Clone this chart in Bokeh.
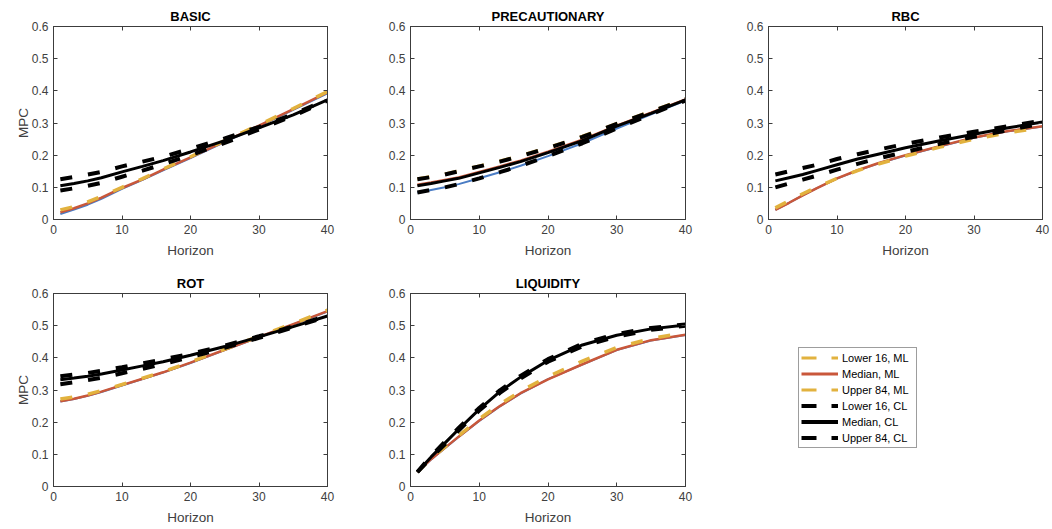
from bokeh.plotting import figure
from bokeh.layouts import column, row
from bokeh.models import LinearAxis, Legend, LegendItem, Range1d, FixedTicker, NumeralTickFormatter
from bokeh.embed import file_html
from bokeh.resources import INLINE

# ---------------- data ----------------
horizon = [1, 3, 5, 7, 10, 13, 16, 20, 25, 30, 35, 40]
x_ticks = [0, 10, 20, 30, 40]
y_ticks = [0, 0.1, 0.2, 0.3, 0.4, 0.5, 0.6]
legend_labels = ["Lower 16, ML", "Median, ML", "Upper 84, ML", "Lower 16, CL", "Median, CL", "Upper 84, CL"]
titles = ["BASIC", "PRECAUTIONARY", "RBC", "ROT", "LIQUIDITY"]

basic_ml_lower = [0.017, 0.031, 0.046, 0.064, 0.095, 0.123, 0.153, 0.191, 0.241, 0.290, 0.341, 0.392]
basic_ml_median = [0.022, 0.035, 0.050, 0.068, 0.098, 0.125, 0.155, 0.193, 0.243, 0.292, 0.343, 0.395]
basic_ml_upper = [0.030, 0.040, 0.055, 0.072, 0.100, 0.127, 0.157, 0.195, 0.245, 0.294, 0.345, 0.398]
basic_cl_lower = [0.090, 0.097, 0.105, 0.114, 0.133, 0.152, 0.172, 0.200, 0.238, 0.280, 0.322, 0.370]
basic_cl_median = [0.105, 0.112, 0.120, 0.130, 0.148, 0.165, 0.183, 0.210, 0.245, 0.285, 0.325, 0.372]
basic_cl_upper = [0.125, 0.132, 0.140, 0.148, 0.165, 0.180, 0.195, 0.220, 0.252, 0.288, 0.327, 0.374]

prec_ml_lower = [0.084, 0.092, 0.100, 0.110, 0.128, 0.147, 0.167, 0.197, 0.237, 0.283, 0.327, 0.370]
prec_ml_median = [0.108, 0.115, 0.123, 0.131, 0.148, 0.165, 0.183, 0.211, 0.248, 0.292, 0.332, 0.373]
prec_ml_upper = [0.126, 0.133, 0.141, 0.151, 0.166, 0.181, 0.198, 0.223, 0.258, 0.298, 0.336, 0.375]
prec_cl_lower = [0.084, 0.092, 0.100, 0.110, 0.128, 0.147, 0.167, 0.197, 0.237, 0.283, 0.327, 0.370]
prec_cl_median = [0.105, 0.112, 0.120, 0.128, 0.145, 0.162, 0.180, 0.208, 0.245, 0.290, 0.330, 0.372]
prec_cl_upper = [0.125, 0.132, 0.140, 0.150, 0.165, 0.180, 0.197, 0.222, 0.257, 0.297, 0.335, 0.374]

rbc_ml_lower = [0.030, 0.052, 0.075, 0.097, 0.127, 0.152, 0.174, 0.199, 0.227, 0.254, 0.274, 0.289]
rbc_ml_median = [0.030, 0.052, 0.075, 0.097, 0.128, 0.153, 0.175, 0.200, 0.228, 0.255, 0.275, 0.290]
rbc_ml_upper = [0.036, 0.058, 0.080, 0.100, 0.128, 0.152, 0.172, 0.197, 0.225, 0.250, 0.270, 0.285]
rbc_cl_lower = [0.100, 0.112, 0.124, 0.136, 0.155, 0.173, 0.190, 0.210, 0.235, 0.257, 0.278, 0.298]
rbc_cl_median = [0.120, 0.130, 0.140, 0.152, 0.170, 0.188, 0.203, 0.223, 0.245, 0.265, 0.285, 0.303]
rbc_cl_upper = [0.140, 0.150, 0.160, 0.170, 0.188, 0.203, 0.217, 0.235, 0.255, 0.273, 0.290, 0.308]

rot_ml_lower = [0.264, 0.272, 0.282, 0.294, 0.314, 0.334, 0.354, 0.384, 0.424, 0.464, 0.504, 0.544]
rot_ml_median = [0.265, 0.273, 0.283, 0.295, 0.315, 0.335, 0.355, 0.385, 0.425, 0.465, 0.505, 0.545]
rot_ml_upper = [0.272, 0.278, 0.287, 0.298, 0.317, 0.337, 0.357, 0.387, 0.427, 0.467, 0.507, 0.548]
rot_cl_lower = [0.318, 0.324, 0.331, 0.338, 0.352, 0.366, 0.381, 0.402, 0.431, 0.462, 0.495, 0.529]
rot_cl_median = [0.332, 0.337, 0.343, 0.350, 0.362, 0.375, 0.388, 0.408, 0.435, 0.465, 0.497, 0.530]
rot_cl_upper = [0.343, 0.348, 0.353, 0.360, 0.371, 0.383, 0.395, 0.413, 0.438, 0.467, 0.498, 0.531]

liq_ml_lower = [0.045, 0.084, 0.119, 0.154, 0.204, 0.249, 0.289, 0.334, 0.379, 0.424, 0.454, 0.471]
liq_ml_median = [0.045, 0.085, 0.120, 0.155, 0.205, 0.250, 0.290, 0.333, 0.380, 0.425, 0.455, 0.472]
liq_ml_upper = [0.045, 0.087, 0.123, 0.158, 0.210, 0.256, 0.296, 0.342, 0.390, 0.432, 0.460, 0.478]
liq_cl_lower = [0.045, 0.089, 0.131, 0.174, 0.236, 0.291, 0.336, 0.388, 0.436, 0.466, 0.487, 0.500]
liq_cl_median = [0.045, 0.092, 0.135, 0.178, 0.240, 0.295, 0.340, 0.392, 0.440, 0.470, 0.490, 0.502]
liq_cl_upper = [0.045, 0.095, 0.139, 0.182, 0.244, 0.299, 0.344, 0.396, 0.444, 0.474, 0.493, 0.504]

panels = [
    (basic_ml_lower, basic_ml_median, basic_ml_upper, basic_cl_lower, basic_cl_median, basic_cl_upper),
    (prec_ml_lower, prec_ml_median, prec_ml_upper, prec_cl_lower, prec_cl_median, prec_cl_upper),
    (rbc_ml_lower, rbc_ml_median, rbc_ml_upper, rbc_cl_lower, rbc_cl_median, rbc_cl_upper),
    (rot_ml_lower, rot_ml_median, rot_ml_upper, rot_cl_lower, rot_cl_median, rot_cl_upper),
    (liq_ml_lower, liq_ml_median, liq_ml_upper, liq_cl_lower, liq_cl_median, liq_cl_upper),
]

# ---------------- style ----------------
BLUE = "#4a7cc4"
RED = "#c9573a"
YELLOW = "#e2b23e"
BLACK = "#000000"
AX = "#3c3c3c"
FONT = "Liberation Sans"
DASH = "12 16"


def style_axis(ax):
    ax.axis_line_color = AX
    ax.major_tick_line_color = AX
    ax.minor_tick_line_color = None
    ax.major_tick_in = 4
    ax.major_tick_out = 0
    ax.major_label_text_color = "#404040"
    ax.major_label_text_font = FONT
    ax.major_label_text_font_size = "12px"
    ax.axis_label_text_color = "#404040"
    ax.axis_label_text_font = FONT
    ax.axis_label_text_font_size = "13.5px"
    ax.axis_label_text_font_style = "normal"


def make_panel(title, series, width, height, left, right, bottom, ylabel):
    ml_lo, ml_med, ml_up, cl_lo, cl_med, cl_up = series
    p = figure(width=width, height=height, output_backend="svg", toolbar_location=None,
               x_range=Range1d(0, 40), y_range=Range1d(0, 0.6),
               min_border_left=left, min_border_right=right, min_border_top=26,
               min_border_bottom=bottom, title=title)
    p.title.text_font = FONT
    p.title.text_font_size = "13px"
    p.title.text_font_style = "bold"
    p.title.text_color = "#000000"
    p.title.align = "center"
    p.title.standoff = 6
    p.grid.visible = False
    p.outline_line_color = AX
    p.background_fill_color = "white"
    p.border_fill_color = "white"

    p.xaxis.ticker = FixedTicker(ticks=x_ticks)
    p.yaxis.ticker = FixedTicker(ticks=y_ticks)
    p.yaxis.formatter = NumeralTickFormatter(format="0.[0]")
    p.xaxis.axis_label = "Horizon"
    if ylabel:
        p.yaxis.axis_label = "MPC"
    for ax in p.xaxis + p.yaxis:
        style_axis(ax)
    p.xaxis.major_label_standoff = 5
    p.xaxis.axis_label_standoff = 6
    p.yaxis.major_label_standoff = 5
    p.yaxis.axis_label_standoff = -2

    # mirrored tick marks on top and right (box style), without labels
    top = LinearAxis(ticker=FixedTicker(ticks=x_ticks))
    rgt = LinearAxis(ticker=FixedTicker(ticks=y_ticks))
    for ax in (top, rgt):
        style_axis(ax)
        ax.major_label_text_font_size = "1px"
        ax.major_label_text_color = None
        ax.major_label_standoff = 0
    p.add_layout(top, "above")
    p.add_layout(rgt, "right")

    p.line(horizon, ml_lo, line_color=BLUE, line_width=2)
    p.line(horizon, ml_med, line_color=RED, line_width=2.5)
    p.line(horizon, ml_up, line_color=YELLOW, line_width=3.5, line_dash=DASH)
    p.line(horizon, cl_lo, line_color=BLACK, line_width=4, line_dash=DASH)
    p.line(horizon, cl_med, line_color=BLACK, line_width=3)
    p.line(horizon, cl_up, line_color=BLACK, line_width=4, line_dash=DASH)
    return p


f1 = make_panel(titles[0], panels[0], 365, 267, 53, 38, 48, True)
f2 = make_panel(titles[1], panels[1], 358, 267, 45, 38, 48, False)
f3 = make_panel(titles[2], panels[2], 328, 267, 45, 9, 48, False)
f4 = make_panel(titles[3], panels[3], 365, 261, 53, 38, 42, True)
f5 = make_panel(titles[4], panels[4], 358, 261, 45, 38, 42, False)

# legend panel: the lines sit outside the visible y-range, only their legend glyphs show
f6 = figure(width=328, height=261, output_backend="svg", toolbar_location=None,
            x_range=Range1d(0, 40), y_range=Range1d(1, 2),
            x_axis_type=None, y_axis_type=None,
            min_border_left=0, min_border_right=0, min_border_top=26, min_border_bottom=42)
f6.grid.visible = False
f6.outline_line_color = None
leg_styles = [
    (YELLOW, 3, "15 15"),
    (RED, 3, "solid"),
    (YELLOW, 3, "15 15"),
    (BLACK, 4, "15 15"),
    (BLACK, 4, "solid"),
    (BLACK, 4, "15 15"),
]
items = []
for lab, ys, (c, w, d) in zip(legend_labels, panels[0], leg_styles):
    r = f6.line(horizon, ys, line_color=c, line_width=w, line_dash=d)
    items.append(LegendItem(label=lab, renderers=[r]))
leg = Legend(items=items, location=(75, 38))
leg.label_text_font = FONT
leg.label_text_font_size = "11px"
leg.label_text_color = "#000000"
leg.glyph_width = 37
leg.glyph_height = 15
leg.label_height = 15
leg.label_width = 72
leg.label_standoff = 4
leg.spacing = 1
leg.padding = 2
leg.margin = 0
leg.border_line_color = AX
leg.border_line_width = 1
leg.background_fill_color = "white"
leg.background_fill_alpha = 1
f6.add_layout(leg, "center")

layout = column(row(f1, f2, f3), row(f4, f5, f6))
open("out.html", "w").write(file_html(layout, INLINE))
